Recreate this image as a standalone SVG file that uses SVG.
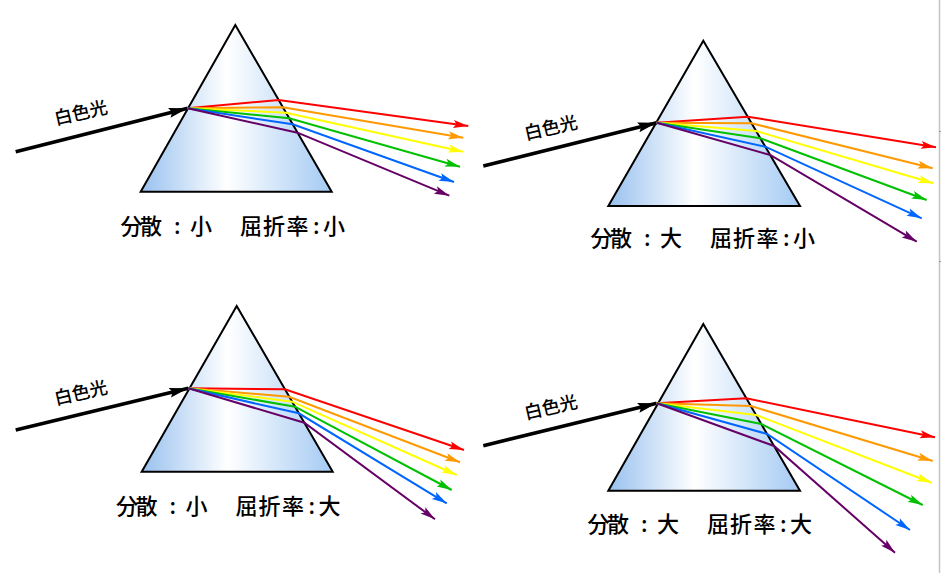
<svg xmlns="http://www.w3.org/2000/svg" width="941" height="573" viewBox="0 0 941 573">
<defs>
<linearGradient id="glass" x1="0" y1="0" x2="1" y2="0">
<stop offset="0" stop-color="#98c1ef"/>
<stop offset="0.45" stop-color="#ffffff"/>
<stop offset="1" stop-color="#a4caf3"/>
</linearGradient>
<marker id="mk" markerUnits="userSpaceOnUse" markerWidth="20" markerHeight="12" refX="19" refY="5" orient="auto" overflow="visible"><path d="M0,0 L19,5 L0,10 L3,5 z" fill="#000"/></marker>
<marker id="mr" markerUnits="userSpaceOnUse" markerWidth="16" markerHeight="9" refX="15" refY="4" orient="auto" overflow="visible"><path d="M0,0 L15,4 L0,8 L3,4 z" fill="#ff0000"/></marker>
<marker id="mo" markerUnits="userSpaceOnUse" markerWidth="16" markerHeight="9" refX="15" refY="4" orient="auto" overflow="visible"><path d="M0,0 L15,4 L0,8 L3,4 z" fill="#ff9900"/></marker>
<marker id="my" markerUnits="userSpaceOnUse" markerWidth="16" markerHeight="9" refX="15" refY="4" orient="auto" overflow="visible"><path d="M0,0 L15,4 L0,8 L3,4 z" fill="#ffff00"/></marker>
<marker id="mg" markerUnits="userSpaceOnUse" markerWidth="16" markerHeight="9" refX="15" refY="4" orient="auto" overflow="visible"><path d="M0,0 L15,4 L0,8 L3,4 z" fill="#00c000"/></marker>
<marker id="mb" markerUnits="userSpaceOnUse" markerWidth="16" markerHeight="9" refX="15" refY="4" orient="auto" overflow="visible"><path d="M0,0 L15,4 L0,8 L3,4 z" fill="#0066ff"/></marker>
<marker id="mp" markerUnits="userSpaceOnUse" markerWidth="16" markerHeight="9" refX="15" refY="4" orient="auto" overflow="visible"><path d="M0,0 L15,4 L0,8 L3,4 z" fill="#660066"/></marker>
</defs>
<style>
.prism{fill:url(#glass);stroke:#000;stroke-width:2;stroke-linejoin:miter}
.cap{font-family:"Noto Sans CJK JP","Noto Sans CJK SC",sans-serif;font-size:22px;font-weight:500;fill:#000}
.lbl{font-family:"Noto Sans CJK JP","Noto Sans CJK SC",sans-serif;font-size:18px;font-weight:500;fill:#000}
.in{fill:none;stroke:#000;stroke-width:3.5;marker-end:url(#mk)}
.ray{fill:none;stroke-width:2;stroke-linejoin:miter}
.r{stroke:#ff0000;marker-end:url(#mr)}
.o{stroke:#ff9900;marker-end:url(#mo)}
.y{stroke:#ffff00;marker-end:url(#my)}
.g{stroke:#00c000;marker-end:url(#mg)}
.b{stroke:#0066ff;marker-end:url(#mb)}
.p{stroke:#660066;marker-end:url(#mp)}
</style>
<rect width="941" height="573" fill="#fff"/>
<line x1="939.5" y1="0" x2="939.5" y2="573" stroke="#c4c4c4" stroke-width="1.5"/>
<line x1="939" y1="131.5" x2="941" y2="131.5" stroke="#999" stroke-width="1"/>
<line x1="939" y1="261.5" x2="941" y2="261.5" stroke="#999" stroke-width="1"/>

<g id="prism-1"><polygon class="prism" points="235.3,25 331.7,191.7 140.7,191.7"/></g>
<g id="prism-2"><polygon class="prism" points="703.3,40.7 800,206 608.3,206"/></g>
<g id="prism-3"><polygon class="prism" points="236.7,306 332.7,471.7 141.7,471.7"/></g>
<g id="prism-4"><polygon class="prism" points="703.3,324 800,490.7 608.3,490.7"/></g>

<g id="connectors">
<line class="in" x1="15.7" y1="151.7" x2="187.7" y2="108.3"/>
<polyline class="ray r" points="187.7,108.3 278.7,100 468.3,126"/>
<polyline class="ray o" points="187.7,108.3 282.9,107.3 463.3,137.7"/>
<polyline class="ray y" points="187.7,108.3 286,112.7 463.3,151.7"/>
<polyline class="ray g" points="187.7,108.3 289.2,118.3 460,166.7"/>
<polyline class="ray b" points="187.7,108.3 292.7,124.3 454,182"/>
<polyline class="ray p" points="187.7,108.3 297.5,132.7 449.3,195.7"/>

<line class="in" x1="483.3" y1="166" x2="656.7" y2="122.7"/>
<polyline class="ray r" points="656.7,122.7 747.8,116.7 936,147.3"/>
<polyline class="ray o" points="656.7,122.7 751.6,123.3 932.7,168.3"/>
<polyline class="ray y" points="656.7,122.7 756.1,131 933.3,183.3"/>
<polyline class="ray g" points="656.7,122.7 760.4,138.3 926.7,200"/>
<polyline class="ray b" points="656.7,122.7 765.3,146.7 921.7,218.3"/>
<polyline class="ray p" points="656.7,122.7 770.2,155 916.7,241.7"/>

<line class="in" x1="15.7" y1="430" x2="188.3" y2="388.3"/>
<polyline class="ray r" points="188.3,388.3 284.9,389.3 464,450"/>
<polyline class="ray o" points="188.3,388.3 289.2,396.7 460,462.3"/>
<polyline class="ray y" points="188.3,388.3 292.1,401.7 456.7,475"/>
<polyline class="ray g" points="188.3,388.3 295,406.7 451.7,490"/>
<polyline class="ray b" points="188.3,388.3 298.8,413.3 446.7,503.3"/>
<polyline class="ray p" points="188.3,388.3 304.3,422.7 435,519.3"/>

<line class="in" x1="483.3" y1="445.7" x2="656.7" y2="403.3"/>
<polyline class="ray r" points="656.7,403.3 746.4,398.3 935,437.3"/>
<polyline class="ray o" points="656.7,403.3 750.9,406 932.7,461"/>
<polyline class="ray y" points="656.7,403.3 756.1,415 931.7,482.7"/>
<polyline class="ray g" points="656.7,403.3 761.3,424 922.7,505"/>
<polyline class="ray b" points="656.7,403.3 767.1,434 910,530"/>
<polyline class="ray p" points="656.7,403.3 774.1,446 895,552.7"/>
</g>

<g id="label-1"><text class="lbl" x="56" y="125" transform="rotate(-13 56 125)">白色光</text></g>
<g id="label-2"><text class="lbl" x="526" y="140" transform="rotate(-13 526 140)">白色光</text></g>
<g id="label-3"><text class="lbl" x="56" y="405" transform="rotate(-13 56 405)">白色光</text></g>
<g id="label-4"><text class="lbl" x="526" y="419.5" transform="rotate(-13 526 419.5)">白色光</text></g>

<g id="caption-1"><text class="cap" x="120.5 140 174 190 212 240 263 286.5 313 323" y="234">分散:小　屈折率:小</text></g>
<g id="caption-2" transform="translate(470 12)"><text class="cap" x="120.5 140 174 190 212 240 263 286.5 313 323" y="234">分散:大　屈折率:小</text></g>
<g id="caption-3" transform="translate(-4.5 280)"><text class="cap" x="120.5 140 174 190 212 240 263 286.5 313 323" y="234">分散:小　屈折率:大</text></g>
<g id="caption-4" transform="translate(467 298)"><text class="cap" x="120.5 140 174 190 212 240 263 286.5 313 323" y="234">分散:大　屈折率:大</text></g>
</svg>
